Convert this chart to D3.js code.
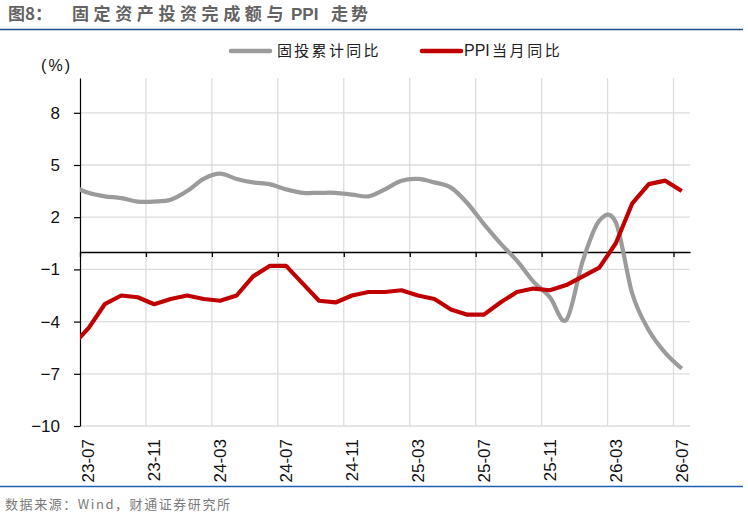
<!DOCTYPE html>
<html>
<head>
<meta charset="utf-8">
<script src="https://cdn.jsdelivr.net/npm/d3@7/dist/d3.min.js"></script>
<style>
  html, body { margin: 0; padding: 0; background: #fff; }
  svg { display: block; }
</style>
</head>
<body>
<svg id="chart" width="748" height="518"></svg>
<script>
// ---- data ----
const months = ["23-06","23-07","23-08","23-09","23-10","23-11","23-12",
  "24-01","24-02","24-03","24-04","24-05","24-06","24-07","24-08","24-09","24-10","24-11","24-12",
  "25-01","25-02","25-03","25-04","25-05","25-06","25-07","25-08","25-09","25-10","25-11","25-12",
  "26-01","26-02","26-03","26-04","26-05","26-06","26-07"];
const faiCum = [3.8,3.4,3.2,3.1,2.9,2.9,3.0,
  3.5,4.2,4.5,4.2,4.0,3.9,3.6,3.4,3.4,3.4,3.3,3.2,
  3.6,4.1,4.2,4.0,3.7,2.8,1.6,0.5,-0.5,-1.7,-2.6,-3.9,
  -0.5,1.8,1.7,-2.4,-4.5,-5.8,-6.7];
const ppiYoy = [-5.4,-4.4,-3.0,-2.5,-2.6,-3.0,-2.7,
  -2.5,-2.7,-2.8,-2.5,-1.4,-0.8,-0.8,-1.8,-2.8,-2.9,-2.5,-2.3,
  -2.3,-2.2,-2.5,-2.7,-3.3,-3.6,-3.6,-2.9,-2.3,-2.1,-2.2,-1.9,
  -1.4,-0.9,0.5,2.8,3.9,4.1,3.5];
const xLabels = ["23-07","23-11","24-03","24-07","24-11","25-03","25-07","25-11","26-03","26-07"];
const yTicks = [-10,-7,-4,-1,2,5,8];
const seriesNames = ["固投累计同比","PPI当月同比"];
const titleLead = "图8：";
const titleParts = ["固定资产投资完成额与", "PPI", "走势"];
const sourceText = "数据来源：Wind，财通证券研究所";

// ---- layout ----
const svg = d3.select("#chart");
const L = 80, R = 690, T = 78, B = 426;
const numFont = "'Liberation Sans', Arial, sans-serif";
const cjkFont = "'Noto Sans CJK SC', 'Noto Sans', sans-serif";

const x = d3.scaleLinear().domain([0.5, months.length - 0.5]).range([L, R]);
const y = d3.scaleLinear().domain([-10, 10]).range([B, T]);

// title
const tTitle = svg.append("text").attr("y", 20).attr("font-family", cjkFont)
  .attr("font-size", 17).attr("font-weight", "bold").attr("fill", "#636363");
tTitle.append("tspan").attr("x", 8).text(titleLead);
tTitle.append("tspan").attr("x", 72).attr("letter-spacing", 4.6).text(titleParts[0]);
tTitle.append("tspan").attr("x", 291).attr("font-family", numFont).text(titleParts[1]);
tTitle.append("tspan").attr("x", 331).attr("letter-spacing", 3).text(titleParts[2]);
svg.append("line").attr("x1", 0).attr("x2", 743).attr("y1", 29.5).attr("y2", 29.5)
  .attr("stroke", "#1f4e8c").attr("stroke-width", 1.6);

// legend
const legColors = ["#9b9b9b", "#c00000"];
const legX = [229, 420];
seriesNames.forEach((n, i) => {
  svg.append("line").attr("x1", legX[i] + 2).attr("x2", legX[i] + 41)
    .attr("y1", 51).attr("y2", 51).attr("stroke", legColors[i])
    .attr("stroke-width", 4.5).attr("stroke-linecap", "round");
});
const lg1 = svg.append("text").attr("y", 51).attr("dy", "0.36em").attr("font-family", cjkFont)
  .attr("font-size", 15).attr("fill", "#222");
lg1.append("tspan").attr("x", 277).attr("letter-spacing", 2.3).text(seriesNames[0]);
const lg2 = svg.append("text").attr("y", 51).attr("dy", "0.36em").attr("font-family", cjkFont)
  .attr("font-size", 15).attr("fill", "#222");
lg2.append("tspan").attr("x", 464).attr("font-family", numFont).attr("font-size", 16)
  .text(seriesNames[1].slice(0, 3));
lg2.append("tspan").attr("x", 492).attr("letter-spacing", 2.6).text(seriesNames[1].slice(3));

// unit
svg.append("text").attr("x", 41).attr("y", 65).attr("dy", "0.36em")
  .attr("font-family", numFont).attr("font-size", 16).attr("fill", "#111")
  .attr("textLength", 29).attr("lengthAdjust", "spacing").text("(%)");

// gridlines
const bounds = xLabels.map((d) => months.indexOf(d) - 0.5);
const grid = svg.append("g");
grid.selectAll("line.h").data(yTicks).join("line")
  .attr("x1", L).attr("x2", R).attr("y1", d => y(d)).attr("y2", d => y(d))
  .attr("stroke", "#dcdcdc").attr("stroke-width", 1.3);
grid.selectAll("line.v").data(bounds.slice(1)).join("line")
  .attr("x1", d => x(d)).attr("x2", d => x(d)).attr("y1", T).attr("y2", B)
  .attr("stroke", "#dcdcdc").attr("stroke-width", 1.3);

// y axis
const yAxis = svg.append("g").attr("transform", `translate(${L},0)`)
  .call(d3.axisLeft(y).tickValues(yTicks).tickSize(6).tickPadding(14).tickSizeOuter(0));
yAxis.select(".domain").attr("stroke", "#000").attr("stroke-width", 1.2);
yAxis.selectAll(".tick line").attr("stroke", "#000").attr("stroke-width", 1.2);
yAxis.selectAll(".tick text").attr("font-family", numFont).attr("font-size", 17)
  .attr("fill", "#111");

// x axis at zero
const xAxis = svg.append("g").attr("transform", `translate(0,${y(0)})`)
  .call(d3.axisBottom(x).tickValues(bounds).tickSize(5).tickSizeOuter(0).tickFormat(""));
xAxis.select(".domain").attr("stroke", "#000").attr("stroke-width", 1.3);
xAxis.selectAll(".tick line").attr("stroke", "#000").attr("stroke-width", 1.3);

// x labels
svg.append("g").selectAll("text").data(xLabels).join("text")
  .attr("transform", d => `translate(${x(months.indexOf(d))},439) rotate(-90)`)
  .attr("text-anchor", "end").attr("dy", "0.36em")
  .attr("font-family", numFont).attr("font-size", 17).attr("fill", "#111")
  .text(d => d);

// clip
svg.append("clipPath").attr("id", "plot").append("rect")
  .attr("x", L).attr("y", T - 10).attr("width", R - L).attr("height", B - T + 20);

const plot = svg.append("g").attr("clip-path", "url(#plot)");
const lineGray = d3.line().x((d, i) => x(i)).y(d => y(d)).curve(d3.curveCardinal.tension(0));
const lineRed = d3.line().x((d, i) => x(i)).y(d => y(d));
plot.append("path").datum(faiCum).attr("d", lineGray).attr("fill", "none")
  .attr("stroke", legColors[0]).attr("stroke-width", 4.2).attr("stroke-linejoin", "round");
plot.append("path").datum(ppiYoy).attr("d", lineRed).attr("fill", "none")
  .attr("stroke", legColors[1]).attr("stroke-width", 4.2).attr("stroke-linejoin", "round");

// bottom rule + source
svg.append("line").attr("x1", 0).attr("x2", 743).attr("y1", 486.5).attr("y2", 486.5)
  .attr("stroke", "#1f5fb0").attr("stroke-width", 1.6);
svg.append("text").attr("x", 5).attr("y", 504).attr("dy", "0.36em")
  .attr("font-family", cjkFont).attr("font-size", 13).attr("fill", "#7a7a7a")
  .attr("textLength", 225).attr("lengthAdjust", "spacing").text(sourceText);
</script>
</body>
</html>
